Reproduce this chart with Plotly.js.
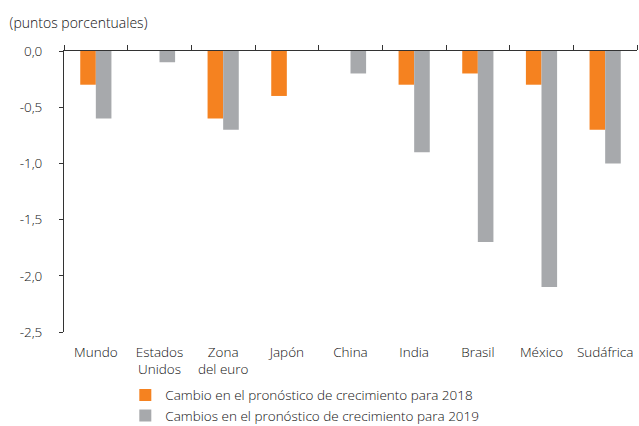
<!DOCTYPE html>
<html>
<head>
<meta charset="utf-8">
<script src="https://cdn.plot.ly/plotly-3.0.1.min.js"></script>
<style>html,body{margin:0;padding:0;background:#fff;}#chart{width:639px;height:426px;}</style>
</head>
<body>
<div id="chart"></div>
<script>
const categories = ["Mundo", "Estados<br>Unidos", "Zona<br>del euro", "Japón", "China", "India", "Brasil", "México", "Sudáfrica"];
const cambio2018 = [-0.3, 0, -0.6, -0.4, 0, -0.3, -0.2, -0.3, -0.7];
const cambio2019 = [-0.6, -0.1, -0.7, 0, -0.2, -0.9, -1.7, -2.1, -1.0];
const yTickVals = [0, -0.5, -1.0, -1.5, -2.0, -2.5];
const yTickText = ["0,0", "-0,5", "-1,0", "-1,5", "-2,0", "-2,5"];
const seriesNames = ["Cambio en el pronóstico de crecimiento para 2018", "Cambios en el pronóstico de crecimiento para 2019"];

const fontFamily = "'Open Sans', 'Noto Sans', sans-serif";
const textColor = "#111111";
const W = 300;

const traces = [
  {type: "bar", x: categories, y: cambio2018, name: seriesNames[0], marker: {color: "#F58220"}, hoverinfo: "skip"},
  {type: "bar", x: categories, y: cambio2019, name: seriesNames[1], marker: {color: "#A7A9AC"}, hoverinfo: "skip"},
  {type: "scatter", mode: "markers", x: categories, y: categories.map(() => null), xaxis: "x2", yaxis: "y", showlegend: false, hoverinfo: "skip"}
];

const layout = {
  width: 639, height: 426,
  margin: {l: 64, r: 2, t: 51, b: 94, autoexpand: false},
  paper_bgcolor: "#fff", plot_bgcolor: "#fff",
  font: {family: fontFamily, size: 13, color: textColor, weight: W},
  barmode: "group", bargap: 0.51, bargroupgap: 0,
  showlegend: true,
  legend: {x: 0.107, y: -0.17, xanchor: "left", yanchor: "top", orientation: "v",
           font: {size: 13.5, color: textColor, weight: W}, tracegroupgap: 0, itemwidth: 30, bgcolor: "rgba(0,0,0,0)"},
  title: {text: "(puntos porcentuales)", x: 0.015, xanchor: "left", y: 0.945, yanchor: "middle", font: {size: 14, color: textColor, weight: W}},
  xaxis: {type: "category", range: [-0.5, 8.5], showline: false, ticks: "", showgrid: false, zeroline: false,
          tickfont: {size: 13.5, color: textColor, weight: W}, ticklabelstandoff: 10, fixedrange: true},
  xaxis2: {type: "category", overlaying: "x", side: "top", anchor: "y", range: [-0.5, 8.5],
           categoryarray: categories, categoryorder: "array",
           showline: true, linecolor: "#333", linewidth: 1, ticks: "outside", ticklen: 5, tickcolor: "#333",
           tickson: "boundaries", showticklabels: false, showgrid: false, zeroline: false},
  yaxis: {range: [-2.5, 0], tickvals: yTickVals, ticktext: yTickText, showline: true, linecolor: "#333", linewidth: 1,
          ticks: "outside", ticklen: 4, tickcolor: "#333", showgrid: false, zeroline: false,
          tickfont: {size: 13.5, color: textColor, weight: W}, ticklabelstandoff: 14}
};

Plotly.newPlot("chart", traces, layout, {displayModeBar: false, staticPlot: true});
</script>
</body>
</html>
